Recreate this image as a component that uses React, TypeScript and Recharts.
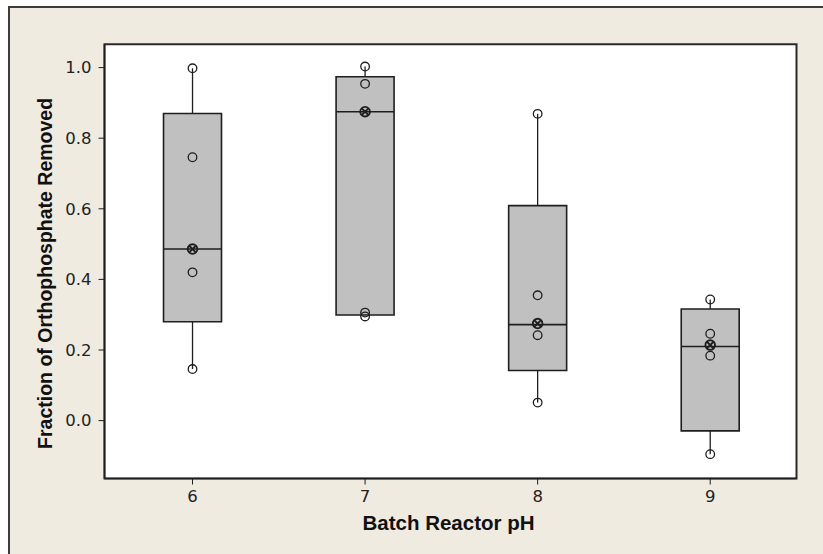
import React from "react";
import {
  ScatterChart,
  Scatter,
  XAxis,
  YAxis,
  ReferenceArea,
  ReferenceLine,
  Label,
} from "recharts";

// box statistics per batch reactor pH
const phLevels = [6, 7, 8, 9];
const q1 = [0.28, 0.299, 0.142, -0.029];
const medians = [0.486, 0.875, 0.272, 0.21];
const q3 = [0.87, 0.974, 0.609, 0.316];
const whiskerLow = [0.146, 0.299, 0.051, -0.095];
const whiskerHigh = [0.998, 1.003, 0.869, 0.343];

// individual observations (open circles)
const ph6Points = [0.998, 0.746, 0.42, 0.146];
const ph7Points = [1.003, 0.954, 0.306, 0.295];
const ph8Points = [0.869, 0.355, 0.242, 0.051];
const ph9Points = [0.343, 0.246, 0.184, -0.095];
// observations drawn with the crossed symbol
const crossedPoints = [0.486, 0.875, 0.275, 0.214];

const yTicks = [0, 0.2, 0.4, 0.6, 0.8, 1.0];
const xDomain: [number, number] = [5.49, 9.5];
const yDomain: [number, number] = [-0.164, 1.066];
const boxHalf = 0.168;

const groups = [ph6Points, ph7Points, ph8Points, ph9Points];
const circleData = groups.flatMap((pts, i) =>
  pts.map((y) => ({ x: phLevels[i], y }))
);
const crossData = crossedPoints.map((y, i) => ({ x: phLevels[i], y }));

const INK = "#1e1e1e";

const OpenCircle = (props: any) => (
  <circle cx={props.cx} cy={props.cy} r={4.3} fill="none" stroke={INK} strokeWidth={1.3} />
);

const CrossCircle = (props: any) => {
  const { cx, cy } = props;
  const d = 3.3;
  return (
    <g stroke={INK} strokeWidth={1.9} fill="none">
      <circle cx={cx} cy={cy} r={4.8} />
      <line x1={cx - d} y1={cy - d} x2={cx + d} y2={cy + d} />
      <line x1={cx - d} y1={cy + d} x2={cx + d} y2={cy - d} />
    </g>
  );
};

const titleFont = {
  fontFamily: "'Liberation Sans', Arial, sans-serif",
  fontWeight: 700,
  fill: "#111",
};

const XTitle = ({ viewBox }: any) => (
  <text
    x={viewBox.x + viewBox.width / 2 - 2}
    y={viewBox.y + 51}
    textAnchor="middle"
    style={{ ...titleFont, fontSize: 20.5 }}
  >
    Batch Reactor pH
  </text>
);

const YTitle = ({ viewBox }: any) => {
  const x = viewBox.x + 44.3;
  const y = viewBox.y + viewBox.height / 2 + 12;
  return (
    <text
      x={x}
      y={y}
      textAnchor="middle"
      transform={`rotate(-90 ${x} ${y})`}
      style={{ ...titleFont, fontSize: 19.5 }}
    >
      Fraction of Orthophosphate Removed
    </text>
  );
};

const tickStyle = { fontFamily: "'DejaVu Sans', Verdana, sans-serif", fontSize: 16.5, fill: "#222" };

export default function App() {
  return (
    <div
      style={{
        position: "absolute",
        left: 8,
        top: 6,
        width: 815,
        height: 548,
        background: "#efebe1",
        boxShadow: "inset 2px 2px 0 #3c3c3c",
      }}
    >
      <ScatterChart
        width={815}
        height={548}
        margin={{ top: 38.3, right: 26.5, left: 0, bottom: 0 }}
      >
        <XAxis
          type="number"
          dataKey="x"
          domain={xDomain}
          ticks={phLevels}
          allowDataOverflow
          height={75.5}
          tickSize={6}
          tickMargin={6}
          tick={tickStyle}
          stroke={INK}
          axisLine={{ stroke: INK, strokeWidth: 1.5 }}
        >
          <Label content={XTitle} />
        </XAxis>
        <YAxis
          type="number"
          dataKey="y"
          domain={yDomain}
          ticks={yTicks}
          allowDataOverflow
          width={96.5}
          tickSize={6}
          tickMargin={7}
          tick={tickStyle}
          tickFormatter={(v: number) => v.toFixed(1)}
          stroke={INK}
          axisLine={{ stroke: INK, strokeWidth: 1.5 }}
        >
          <Label content={YTitle} />
        </YAxis>

        <ReferenceArea
          x1={xDomain[0]}
          x2={xDomain[1]}
          y1={yDomain[0]}
          y2={yDomain[1]}
          fill="#ffffff"
          fillOpacity={1}
          stroke="#2a2a2a"
          strokeWidth={2}
        />

        {phLevels.map((ph, i) => (
          <ReferenceLine
            key={`wl-${ph}`}
            segment={[
              { x: ph, y: whiskerLow[i] },
              { x: ph, y: q1[i] },
            ]}
            stroke={INK}
            strokeWidth={1.3}
          />
        ))}
        {phLevels.map((ph, i) => (
          <ReferenceLine
            key={`wh-${ph}`}
            segment={[
              { x: ph, y: q3[i] },
              { x: ph, y: whiskerHigh[i] },
            ]}
            stroke={INK}
            strokeWidth={1.3}
          />
        ))}
        {phLevels.map((ph, i) => (
          <ReferenceArea
            key={`box-${ph}`}
            x1={ph - boxHalf}
            x2={ph + boxHalf}
            y1={q1[i]}
            y2={q3[i]}
            fill="#c0c0c0"
            fillOpacity={1}
            stroke={INK}
            strokeWidth={1.6}
          />
        ))}
        {phLevels.map((ph, i) => (
          <ReferenceLine
            key={`med-${ph}`}
            segment={[
              { x: ph - boxHalf, y: medians[i] },
              { x: ph + boxHalf, y: medians[i] },
            ]}
            stroke={INK}
            strokeWidth={1.6}
          />
        ))}

        <Scatter data={circleData} shape={OpenCircle} isAnimationActive={false} />
        <Scatter data={crossData} shape={CrossCircle} isAnimationActive={false} />
      </ScatterChart>
    </div>
  );
}
